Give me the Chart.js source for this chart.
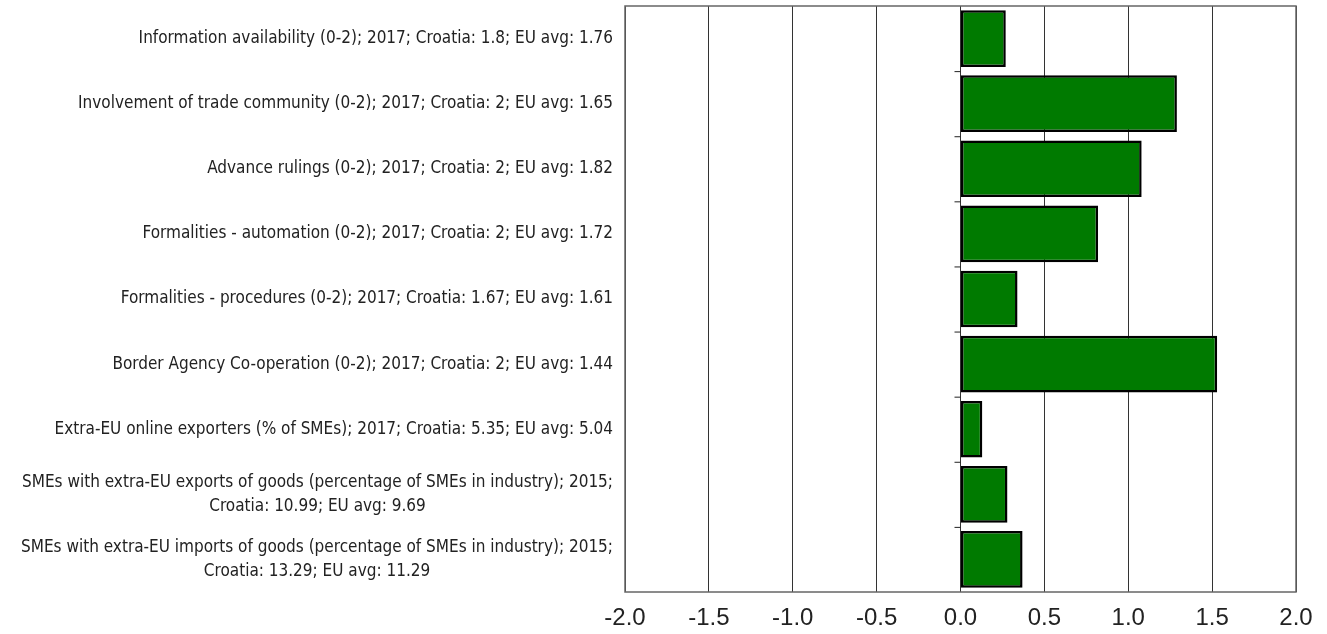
<!DOCTYPE html>
<html>
<head>
<meta charset="utf-8">
<script src="https://cdn.jsdelivr.net/npm/chart.js@4/dist/chart.umd.min.js"></script>
<style>
  html, body { margin: 0; padding: 0; background: #fff; }
  #wrap { width: 1327px; height: 634px; }
</style>
</head>
<body>
<div id="wrap"><canvas id="chart" width="1327" height="634"></canvas></div>
<script>
// Dữ liệu
const categories = [
    ['Information availability (0-2); 2017; Croatia: 1.8; EU avg: 1.76'],
    ['Involvement of trade community (0-2); 2017; Croatia: 2; EU avg: 1.65'],
    ['Advance rulings (0-2); 2017; Croatia: 2; EU avg: 1.82'],
    ['Formalities - automation (0-2); 2017; Croatia: 2; EU avg: 1.72'],
    ['Formalities - procedures (0-2); 2017; Croatia: 1.67; EU avg: 1.61'],
    ['Border Agency Co-operation (0-2); 2017; Croatia: 2; EU avg: 1.44'],
    ['Extra-EU online exporters (% of SMEs); 2017; Croatia: 5.35; EU avg: 5.04'],
    ['SMEs with extra-EU exports of goods (percentage of SMEs in industry); 2015;', 'Croatia: 10.99; EU avg: 9.69'],
    ['SMEs with extra-EU imports of goods (percentage of SMEs in industry); 2015;', 'Croatia: 13.29; EU avg: 11.29']
];
const values = [0.27, 1.29, 1.08, 0.82, 0.34, 1.53, 0.13, 0.28, 0.37];
const xTicks = [-2.0, -1.5, -1.0, -0.5, 0.0, 0.5, 1.0, 1.5, 2.0];

const labelFont = "'Liberation Sans Narrow', 'Arial Narrow', 'DejaVu Sans Condensed', sans-serif";
const labelSize = 17;
const labelLineHeight = 24;

// Khung, vạch chia nhỏ tại trục 0 và nhãn danh mục (nhiều dòng căn giữa)
const framePlugin = {
    id: 'frame',
    afterDraw(chart) {
        const ctx = chart.ctx;
        const a = chart.chartArea;
        const x = chart.scales.x;
        const y = chart.scales.y;
        ctx.save();
        ctx.strokeStyle = '#666';
        ctx.lineWidth = 1.5;
        ctx.strokeRect(a.left, a.top, a.right - a.left, a.bottom - a.top);
        const x0 = x.getPixelForValue(0);
        ctx.strokeStyle = '#222';
        ctx.lineWidth = 1;
        for (let i = 1; i < categories.length; i++) {
            const yy = (y.getPixelForValue(i - 1) + y.getPixelForValue(i)) / 2;
            ctx.beginPath();
            ctx.moveTo(x0 - 6, yy + 0.5);
            ctx.lineTo(x0, yy + 0.5);
            ctx.stroke();
        }

        ctx.font = labelSize + 'px ' + labelFont;
        ctx.fillStyle = '#222';
        ctx.textAlign = 'center';
        ctx.textBaseline = 'middle';
        const rightEdge = a.left - 12;
        categories.forEach((lines, i) => {
            const w = Math.max(...lines.map(s => ctx.measureText(s).width));
            const cx = rightEdge - w / 2;
            const cy = y.getPixelForValue(i);
            lines.forEach((s, j) => {
                ctx.fillText(s, cx, cy + (j - (lines.length - 1) / 2) * labelLineHeight);
            });
        });
        ctx.restore();
    }
};

const ctx = document.getElementById('chart').getContext('2d');
new Chart(ctx, {
    type: 'bar',
    data: {
        labels: categories,
        datasets: [{
            data: values,
            backgroundColor: '#007a00',
            borderColor: '#000',
            borderWidth: 2.5,
            borderSkipped: false,
            barPercentage: 0.87,
            categoryPercentage: 1.0
        }]
    },
    options: {
        indexAxis: 'y',
        responsive: false,
        animation: false,
        layout: { padding: { left: 0, right: 31, top: 6, bottom: 0 } },
        plugins: {
            legend: { display: false },
            tooltip: { enabled: false }
        },
        scales: {
            x: {
                min: -2,
                max: 2,
                afterBuildTicks: scale => { scale.ticks = xTicks.map(v => ({ value: v })); },
                afterFit: scale => { scale.height = 42; },
                grid: { color: '#333', lineWidth: 1, drawTicks: false },
                border: { display: false },
                ticks: {
                    padding: 12,
                    color: '#222',
                    font: { family: "'Liberation Sans', Arial, sans-serif", size: 24 },
                    callback: v => Number(v).toFixed(1)
                }
            },
            y: {
                afterFit: scale => {
                    scale.width = 625;
                    scale.paddingTop = 0;
                    scale.paddingBottom = 0;
                },
                grid: { display: false, drawTicks: false },
                border: { display: false },
                ticks: { display: false }
            }
        }
    },
    plugins: [framePlugin]
});
</script>
</body>
</html>
